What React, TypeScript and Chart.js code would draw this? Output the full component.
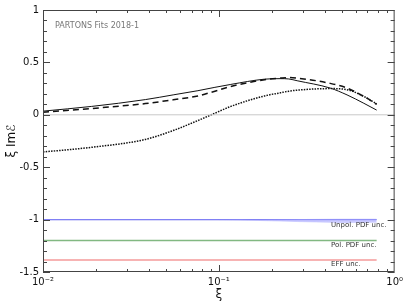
import React, { useEffect, useRef } from "react";
import { Chart, registerables } from "chart.js";

Chart.register(...registerables);

// ξ sample points for the model curves
const xiPts = [0.01, 0.0189, 0.0382, 0.055, 0.076, 0.095, 0.117, 0.182, 0.224, 0.25, 0.279, 0.43, 0.536, 0.668, 0.79];
const solidVals = [0.035, 0.08, 0.145, 0.19, 0.23, 0.262, 0.29, 0.34, 0.345, 0.342, 0.325, 0.255, 0.19, 0.11, 0.045];
const dashedVals = [0.025, 0.06, 0.107, 0.143, 0.18, 0.225, 0.27, 0.335, 0.35, 0.355, 0.35, 0.3, 0.255, 0.175, 0.1];
const dottedVals = [-0.355, -0.31, -0.235, -0.15, -0.055, 0.015, 0.08, 0.18, 0.21, 0.225, 0.235, 0.25, 0.24, 0.175, 0.105];

// uncertainty bands
const bandXi = [0.01, 0.1, 0.15, 0.2, 0.3, 0.5, 0.79];
const unpolCenter = [-1, -1, -1, -1, -1, -1, -1];
const unpolUpper = [-1, -1, -0.998, -0.996, -0.994, -0.993, -0.993];
const unpolLower = [-1, -1, -1.006, -1.012, -1.02, -1.028, -1.025];
const polCenter = [-1.2, -1.2, -1.2, -1.2, -1.2, -1.2, -1.2];
const effCenter = [-1.385, -1.385, -1.385, -1.385, -1.385, -1.385, -1.385];

const zeroXi = [0.01, 1];
const zeroVals = [0, 0];

const xTickVals = [0.01, 0.1, 1];
const xTickLabels = ["10⁻²", "10⁻¹", "10⁰"];
const yTickLabels: Record<string, string> = { "1": "1", "0.5": "0.5", "0": "0", "-0.5": "-0.5", "-1": "-1", "-1.5": "-1.5" };

const bandLabels = ["Unpol. PDF unc.", "Pol. PDF unc.", "EFF unc."];
const bandLabelY = [-1.05, -1.24, -1.43];
const fitLabel = "PARTONS Fits 2018-1";

const pts = (xs: number[], ys: number[]) => xs.map((x, i) => ({ x, y: ys[i] }));

const decorPlugin = {
  id: "decor",
  afterDraw(chart: any) {
    const { ctx, chartArea: a, scales } = chart;
    const xs = scales.x;
    const ys = scales.y;
    ctx.save();
    // frame
    ctx.strokeStyle = "#444";
    ctx.lineWidth = 1;
    ctx.strokeRect(a.left + 0.5, a.top + 0.5, a.right - a.left - 1, a.bottom - a.top - 1);
    // y ticks
    for (let i = -15; i <= 10; i++) {
      const v = i / 10;
      const y = Math.round(ys.getPixelForValue(v)) + 0.5;
      const len = i % 5 === 0 ? 7 : 4;
      ctx.beginPath();
      ctx.moveTo(a.left, y);
      ctx.lineTo(a.left + len, y);
      ctx.moveTo(a.right, y);
      ctx.lineTo(a.right - len, y);
      ctx.stroke();
    }
    // x ticks
    for (let d = -2; d < 0; d++) {
      for (let m = 1; m <= 9; m++) {
        const v = m * Math.pow(10, d);
        const x = Math.round(xs.getPixelForValue(v)) + 0.5;
        const len = m === 1 ? 7 : 3;
        ctx.beginPath();
        ctx.moveTo(x, a.bottom);
        ctx.lineTo(x, a.bottom - len);
        ctx.moveTo(x, a.top);
        ctx.lineTo(x, a.top + len);
        ctx.stroke();
      }
    }
    // texts
    ctx.fillStyle = "#777";
    ctx.font = "8px 'DejaVu Sans'";
    ctx.textAlign = "left";
    ctx.textBaseline = "middle";
    ctx.fillText(fitLabel, a.left + 12, a.top + 16);
    ctx.fillStyle = "#333";
    ctx.font = "7px 'DejaVu Sans'";
    bandLabels.forEach((t, i) => {
      ctx.fillText(t, a.left + 288, ys.getPixelForValue(bandLabelY[i]));
    });
    // axis titles
    ctx.fillStyle = "#111";
    ctx.font = "12px 'DejaVu Sans'";
    ctx.textAlign = "center";
    ctx.fillText("ξ", (a.left + a.right) / 2, 295);
    ctx.translate(12, (a.top + a.bottom) / 2);
    ctx.rotate(-Math.PI / 2);
    ctx.fillText("ξ Imℰ", 0, 0);
    ctx.restore();
  },
};

export default function App() {
  const ref = useRef<HTMLCanvasElement>(null);
  useEffect(() => {
    document.body.style.margin = "0";
    const chart = new Chart(ref.current!, {
      type: "line",
      data: {
        datasets: [
          { data: pts(zeroXi, zeroVals), borderColor: "#c8c8c8", borderWidth: 1, pointRadius: 0 },
          { data: pts(bandXi, unpolUpper), borderColor: "rgba(0,0,0,0)", borderWidth: 0, pointRadius: 0, fill: false },
          { data: pts(bandXi, unpolLower), borderColor: "rgba(170,170,255,0.8)", borderWidth: 0.5, pointRadius: 0, fill: "-1", backgroundColor: "rgba(170,170,255,0.6)" },
          { data: pts(bandXi, unpolCenter), borderColor: "#6a6aee", borderWidth: 1.4, pointRadius: 0 },
          { data: pts(bandXi, polCenter), borderColor: "#82b882", borderWidth: 1.4, pointRadius: 0 },
          { data: pts(bandXi, effCenter), borderColor: "#f59a9a", borderWidth: 1.4, pointRadius: 0 },
          { data: pts(xiPts, solidVals), borderColor: "#111", borderWidth: 1, pointRadius: 0, cubicInterpolationMode: "monotone" },
          { data: pts(xiPts, dashedVals), borderColor: "#111", borderWidth: 1.5, borderDash: [6, 4], pointRadius: 0, cubicInterpolationMode: "monotone" },
          { data: pts(xiPts, dottedVals), borderColor: "#111", borderWidth: 1.5, borderDash: [1.5, 1.2], pointRadius: 0, cubicInterpolationMode: "monotone" },
        ] as any,
      },
      options: {
        animation: false,
        responsive: false,
        events: [],
        layout: { padding: { top: 7, right: 9, left: 0, bottom: 0 } },
        plugins: { legend: { display: false }, tooltip: { enabled: false } },
        scales: {
          x: {
            type: "logarithmic",
            min: 0.01,
            max: 1,
            grid: { display: false, drawTicks: false },
            border: { display: false },
            afterBuildTicks: (s: any) => {
              s.ticks = xTickVals.map((v) => ({ value: v }));
            },
            afterFit: (s: any) => {
              s.height = 33;
            },
            ticks: {
              autoSkip: false,
              maxRotation: 0,
              padding: 4,
              color: "#111",
              font: { family: "DejaVu Sans", size: 10 },
              callback: (_v: any, i: number) => xTickLabels[i],
            },
          },
          y: {
            min: -1.5,
            max: 1,
            grid: { display: false, drawTicks: false },
            border: { display: false },
            afterFit: (s: any) => {
              s.width = 43;
            },
            ticks: {
              stepSize: 0.5,
              padding: 4,
              color: "#111",
              font: { family: "DejaVu Sans", size: 10 },
              callback: (v: any) => yTickLabels[String(Math.round(Number(v) * 10) / 10)] ?? "",
            },
          },
        },
      },
      plugins: [decorPlugin],
    });
    return () => chart.destroy();
  }, []);
  return (
    <div style={{ position: "fixed", left: 0, top: 0, width: 407, height: 305 }}>
      <canvas ref={ref} width={407} height={305} style={{ width: 407, height: 305 }} />
    </div>
  );
}
